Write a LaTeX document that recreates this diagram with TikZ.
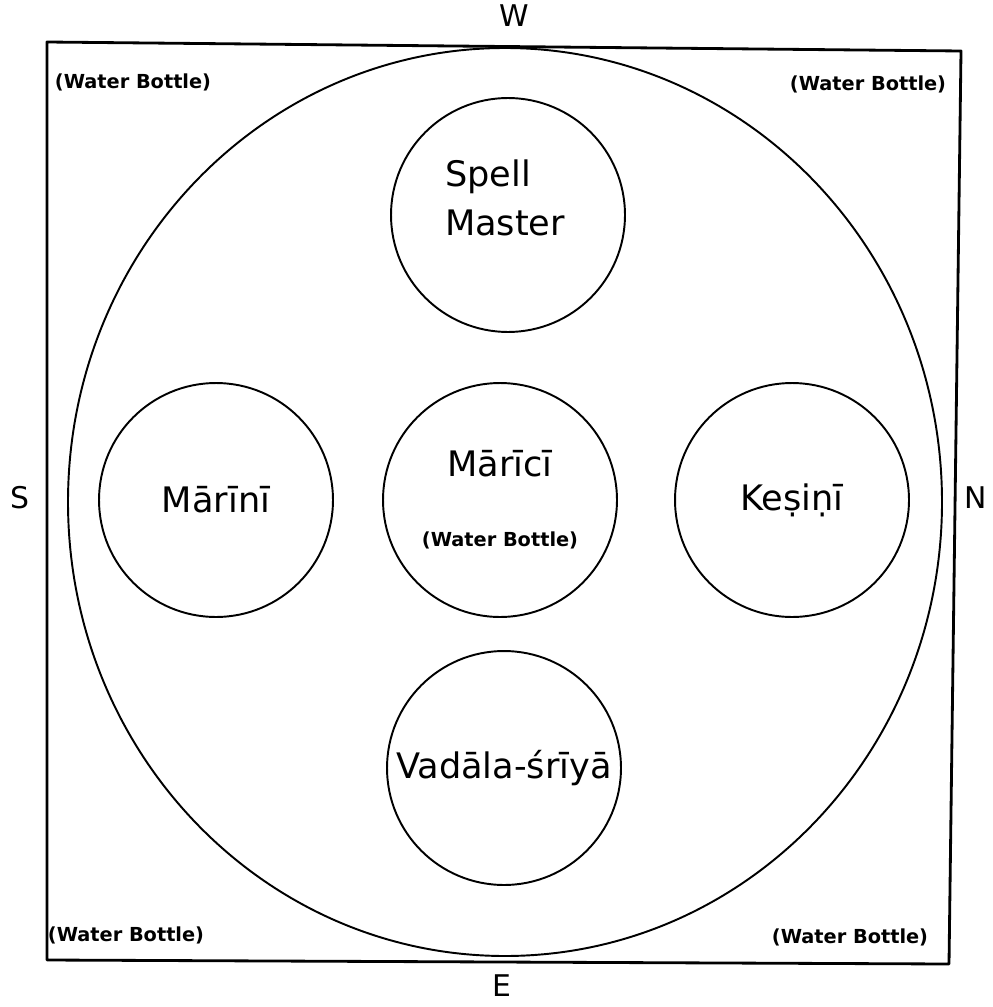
\documentclass[tikz,border=0pt]{standalone}
\usepackage{fontspec}
\setmainfont{DejaVu Sans}
\begin{document}
\begin{tikzpicture}[x=0.02cm, y=-0.02cm, line join=round, line cap=round,
	seat/.style={circle, draw, line width=1.1pt, minimum size=4.68cm, inner sep=0pt, align=center, font=\fontsize{20}{26}\selectfont},
	bottle/.style={font=\fontsize{11}{13}\selectfont\bfseries},
	dir/.style={font=\fontsize{17}{20}\selectfont}]
	\useasboundingbox (0,0) rectangle (992,1007);
	\coordinate (TL) at (47,42);
	\coordinate (TR) at (961,51);
	\coordinate (BR) at (949,964);
	\coordinate (BL) at (47,960);
	\draw[line width=1.6pt] (TL) -- (TR) -- (BR) -- (BL) -- cycle;
	\draw[line width=1.1pt] (505,502) ellipse [x radius=437, y radius=454];
	% the five seats
	\node[seat] (spell) at (508,215) {};
	\node[font=\fontsize{20}{28}\selectfont, align=left] (spelltxt) at (505,198) {Spell\\Master};
	\node[seat] (marici) at (500,500) {Mārīcī\\[14pt]{\fontsize{11}{13}\selectfont\bfseries (Water Bottle)}};
	\node[seat] (marini) at (216,500) {Mārīnī};
	\node[seat] (kesini) at (792,500) {Keṣiṇī};
	\node[seat] (vadala) at (504,768) {Vadāla-śrīyā};
	% water bottles in the corners
	\node[bottle] (wbTL) at (133,82) {(Water Bottle)};
	\node[bottle] (wbTR) at (868,84) {(Water Bottle)};
	\node[bottle] (wbBL) at (126,935) {(Water Bottle)};
	\node[bottle] (wbBR) at (850,937) {(Water Bottle)};
	% quarters
	\node[dir] (west) at (514,16) {W};
	\node[dir] (south) at (20,498) {S};
	\node[dir] (north) at (976,498) {N};
	\node[dir] (east) at (502,986) {E};
\end{tikzpicture}
\end{document}
